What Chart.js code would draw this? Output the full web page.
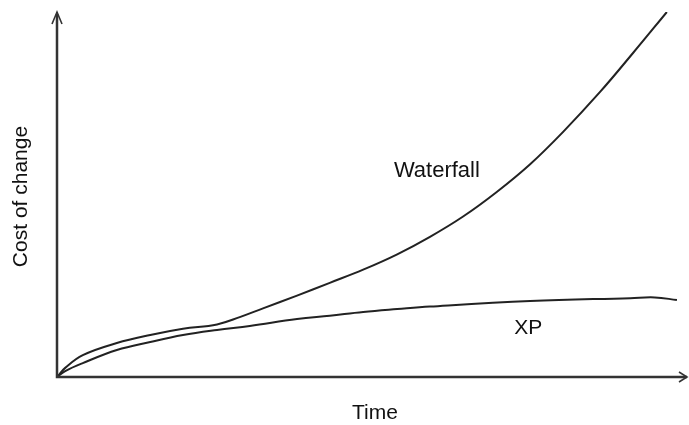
<!DOCTYPE html>
<html lang="en">
<head>
<meta charset="UTF-8">
<title>Cost of change</title>
<style>
    body { margin: 0; background: #fff; overflow: hidden; }
    #wrap { width: 689px; height: 425px; }
</style>
</head>
<body>
<div id="wrap"><canvas id="chart" width="689" height="425"></canvas></div>

<script src="https://cdn.jsdelivr.net/npm/chart.js@4"></script>
<script>
// Data (time and cost in arbitrary units, 0..100)
const timeWaterfall = [0, 1.3, 4.1, 9.5, 14.8, 20.0, 25.4, 29.0, 32.7, 38.1, 43.3, 48.6, 54.0, 59.2, 64.4, 69.8, 75.1, 80.3, 86.2, 91.4, 96.8];
const costWaterfall = [0, 2.5, 6.0, 9.3, 11.5, 13.2, 14.4, 16.4, 18.8, 22.3, 25.8, 29.4, 33.6, 38.4, 43.9, 50.7, 58.3, 67.1, 78.1, 88.7, 100];

const timeXP = [0, 1.3, 4.1, 9.5, 14.8, 20.0, 25.4, 30.6, 38.1, 43.3, 48.6, 54.0, 59.2, 75.1, 91.0, 94.9, 98.4];
const costXP = [0, 1.6, 3.8, 7.4, 9.6, 11.5, 12.9, 14.0, 15.9, 16.8, 17.8, 18.6, 19.3, 20.8, 21.6, 21.8, 21.1];

const seriesLabels = ['Waterfall', 'XP'];
const labelPos = [[60.3, 56.4], [74.8, 13.4]];
const xTitle = 'Time';
const yTitle = 'Cost of change';

const FONT = '"Liberation Sans", Arial, Helvetica, sans-serif';

function pts(xs, ys) {
    return xs.map((x, i) => ({ x: x, y: ys[i] }));
}

// axes with arrow heads, titles and curve labels
const sketchPlugin = {
    id: 'sketch',
    afterDatasetsDraw(chart) {
        const ctx = chart.ctx;
        const a = chart.chartArea;
        const xs = chart.scales.x, ys = chart.scales.y;
        ctx.save();
        ctx.strokeStyle = '#333';
        ctx.lineWidth = 2.5;
        ctx.beginPath();
        ctx.moveTo(a.left, a.top + 2);
        ctx.lineTo(a.left, a.bottom);
        ctx.lineTo(a.right, a.bottom);
        ctx.stroke();

        // arrow heads
        ctx.lineWidth = 1.6;
        ctx.beginPath();
        ctx.moveTo(a.left - 5, a.top + 12);
        ctx.lineTo(a.left, a.top);
        ctx.lineTo(a.left + 5, a.top + 12);
        ctx.moveTo(a.right - 8, a.bottom - 5);
        ctx.lineTo(a.right, a.bottom);
        ctx.lineTo(a.right - 8, a.bottom + 5);
        ctx.stroke();

        ctx.fillStyle = '#111';
        ctx.font = '21px ' + FONT;
        ctx.textAlign = 'center';
        ctx.textBaseline = 'middle';
        ctx.fillText(xTitle, (a.left + a.right) / 2 + 3, 413);

        ctx.save();
        ctx.translate(21, (a.top + a.bottom) / 2 + 2);
        ctx.rotate(-Math.PI / 2);
        ctx.fillText(yTitle, 0, 0);
        ctx.restore();

        seriesLabels.forEach((t, i) => {
            ctx.font = (i === 0 ? '22px ' : '21px ') + FONT;
            ctx.fillText(t, xs.getPixelForValue(labelPos[i][0]), ys.getPixelForValue(labelPos[i][1]));
        });
        ctx.restore();
    }
};

new Chart(document.getElementById('chart'), {
    type: 'line',
    data: {
        datasets: [
            { label: seriesLabels[0], data: pts(timeWaterfall, costWaterfall) },
            { label: seriesLabels[1], data: pts(timeXP, costXP) }
        ]
    },
    options: {
        responsive: false,
        animation: false,
        layout: { padding: { left: 57, right: 2, top: 12, bottom: 48 } },
        elements: {
            line: { borderColor: '#222', borderWidth: 2, tension: 0.4 },
            point: { radius: 0 }
        },
        plugins: {
            legend: { display: false },
            tooltip: { enabled: false }
        },
        scales: {
            x: { type: 'linear', min: 0, max: 100, display: false },
            y: { type: 'linear', min: 0, max: 100, display: false }
        }
    },
    plugins: [sketchPlugin]
});
</script>
</body>
</html>
